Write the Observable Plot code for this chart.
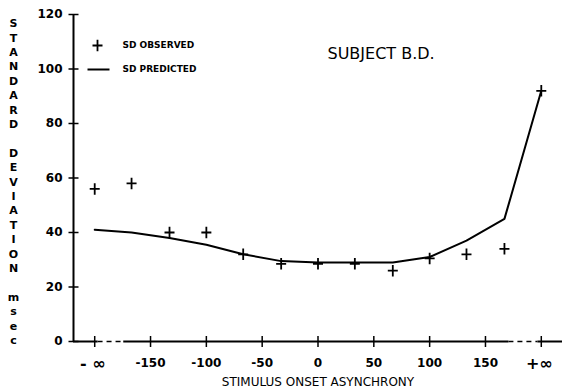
<!DOCTYPE html>
<html>
<head>
<meta charset="utf-8">
<script src="https://cdn.jsdelivr.net/npm/d3@7"></script>
<script src="https://cdn.jsdelivr.net/npm/@observablehq/plot@0.6"></script>
<style>
  html, body { margin: 0; padding: 0; background: #fff; }
</style>
</head>
<body>
<div id="chart"></div>
<script>
// Stimulus onset asynchrony (msec); -200 / +200 stand for -∞ / +∞
const soa = [-200, -167, -133, -100, -67, -33, 0, 33, 67, 100, 133, 167, 200];
const sdObserved = [56, 58, 40, 40, 32, 28.5, 28.5, 28.5, 26, 30.5, 32, 34, 92];
const sdPredicted = [41, 40, 38, 35.5, 32, 29.5, 29, 29, 29, 31, 37, 45, 92];

const xTicks = [-200, -150, -100, -50, 0, 50, 100, 150, 200];
const xTickLabels = ["- ∞", "-150", "-100", "-50", "0", "50", "100", "150", "+∞"];
const yTicks = [0, 20, 40, 60, 80, 100, 120];
const legendLabels = ["SD OBSERVED", "SD PREDICTED"];

const xDomain = [-219, 219];
const axisSolid = [[-219, -197], [-174, 171], [197, 219]];
const axisDashed = [[-197, -174], [171, 197]];

const yLabel = "STANDARD DEVIATION msec".split(" ")
  .map(w => w.split("").join("\n")).join("\n\u00a0\n");

const observed = soa.map((x, i) => ({x, sd: sdObserved[i]}));
const predicted = soa.map((x, i) => ({x, sd: sdPredicted[i]}));
const numericTicks = xTicks.slice(1, -1);
const infTicks = [0, xTicks.length - 1].map(i => ({x: xTicks[i], label: xTickLabels[i]}));

const plusSym = {draw(ctx, size) { const r = Math.sqrt(size / Math.PI);
  ctx.moveTo(-r, 0); ctx.lineTo(r, 0); ctx.moveTo(0, -r * 1.15); ctx.lineTo(0, r * 1.15); }};
const hLine = {draw(ctx, size) { const r = Math.sqrt(size / Math.PI);
  ctx.moveTo(-r, 0); ctx.lineTo(r, 0); }};
const vLine = {draw(ctx, size) { const r = Math.sqrt(size / Math.PI);
  ctx.moveTo(0, -r); ctx.lineTo(0, r); }};

const chart = Plot.plot({
  width: 563,
  height: 391,
  marginLeft: 73,
  marginRight: 1,
  marginTop: 14,
  marginBottom: 50,
  style: {fontFamily: "DejaVu Sans", fontSize: "12px", background: "#fff", color: "#000"},
  x: {domain: xDomain},
  y: {domain: [0, 120]},
  marks: [
    // axes lines
    Plot.ruleX([xDomain[0]], {x: d => d, y1: 0, y2: 120, stroke: "#000", strokeWidth: 2}),
    Plot.ruleY(axisSolid, {y: 0, x1: d => d[0], x2: d => d[1], stroke: "#000", strokeWidth: 2}),
    Plot.ruleY(axisDashed, {y: 0, x1: d => d[0], x2: d => d[1], stroke: "#000", strokeWidth: 1.6, strokeDasharray: "5,4"}),
    // crossing ticks
    Plot.dot(yTicks, {y: d => d, x: null, frameAnchor: "left", symbol: hLine, r: 5, stroke: "#000", strokeWidth: 1.5, fill: "none"}),
    Plot.dot(xTicks, {x: d => d, y: null, frameAnchor: "bottom", symbol: vLine, r: 5.5, stroke: "#000", strokeWidth: 1.5, fill: "none"}),
    Plot.axisY({ticks: yTicks, tickSize: 0, tickPadding: 11, fontWeight: "bold", fontSize: 12, label: null}),
    Plot.axisX({ticks: numericTicks, tickSize: 0, tickPadding: 17, fontWeight: "bold", fontSize: 12, label: null,
      tickFormat: d => xTickLabels[xTicks.indexOf(d)]}),
    Plot.text(infTicks, {x: "x", text: "label", y: null, frameAnchor: "bottom", dy: 22, dx: -2,
      lineAnchor: "middle", fontSize: 16, fontWeight: "bold"}),
    Plot.text(["STIMULUS ONSET ASYNCHRONY"], {text: d => d, x: null, y: null, frameAnchor: "bottom", dy: 41,
      lineAnchor: "middle", fontSize: 12, letterSpacing: "0.4px"}),
    Plot.text([yLabel], {text: d => d, x: null, y: null, frameAnchor: "left", dx: -60, dy: 3,
      lineAnchor: "middle", textAnchor: "middle", fontSize: 11, fontWeight: "bold", lineHeight: 1.31}),
    // data
    Plot.line(predicted, {x: "x", y: "sd", stroke: "#000", strokeWidth: 2}),
    Plot.dot(observed, {x: "x", y: "sd", symbol: plusSym, r: 5, stroke: "#000", strokeWidth: 1.8, fill: "none"}),
    // legend
    Plot.dot([0], {x: null, y: null, frameAnchor: "top-left", dx: 24, dy: 31, symbol: plusSym, r: 5, stroke: "#000", strokeWidth: 1.8, fill: "none"}),
    Plot.dot([0], {x: null, y: null, frameAnchor: "top-left", dx: 25, dy: 55, symbol: hLine, r: 11, stroke: "#000", strokeWidth: 2, fill: "none"}),
    Plot.text([legendLabels[0]], {text: d => d, x: null, y: null, frameAnchor: "top-left",
      dx: 49, dy: 31, textAnchor: "start", lineAnchor: "middle", fontSize: 9, fontWeight: "bold"}),
    Plot.text([legendLabels[1]], {text: d => d, x: null, y: null, frameAnchor: "top-left",
      dx: 49, dy: 55, textAnchor: "start", lineAnchor: "middle", fontSize: 9, fontWeight: "bold"}),
    Plot.text(["SUBJECT B.D."], {text: d => d, x: null, y: null, frameAnchor: "top-left", dx: 254, dy: 39,
      textAnchor: "start", lineAnchor: "middle", fontSize: 16, letterSpacing: "1px"})
  ]
});
document.getElementById("chart").appendChild(chart);
</script>
</body>
</html>
